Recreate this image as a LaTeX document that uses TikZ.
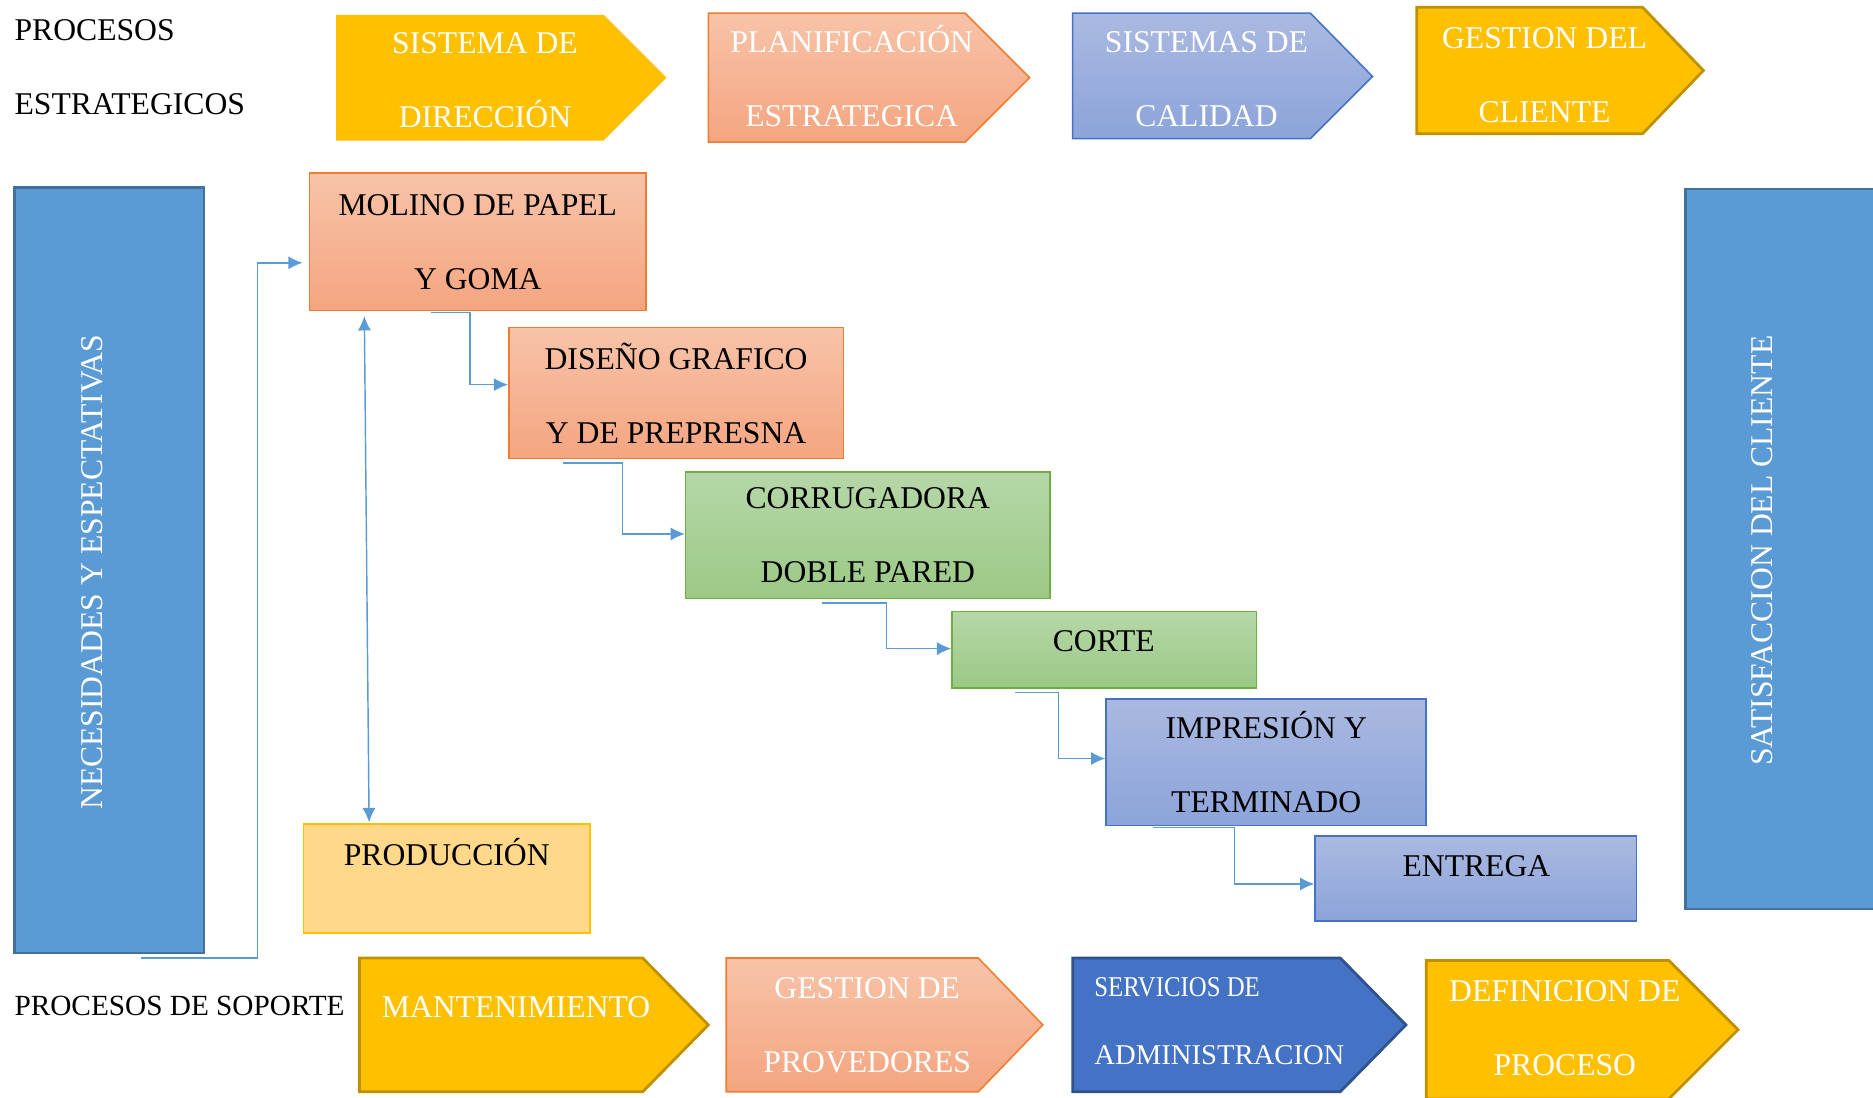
\documentclass[tikz,border=0pt]{standalone}
\usepackage{fontspec}
\setmainfont{Liberation Serif}
\usetikzlibrary{arrows.meta}
\definecolor{gold}{HTML}{FFC000}
\definecolor{goldLine}{HTML}{BF9000}
\definecolor{salTop}{HTML}{F8C3A8}
\definecolor{salBot}{HTML}{F4A580}
\definecolor{salLine}{HTML}{ED7D31}
\definecolor{grnTop}{HTML}{B6D7A8}
\definecolor{grnBot}{HTML}{9BC985}
\definecolor{grnLine}{HTML}{70AD47}
\definecolor{lavTop}{HTML}{AAB9E1}
\definecolor{lavBot}{HTML}{8CA4DA}
\definecolor{lavLine}{HTML}{4472C4}
\definecolor{bigFill}{HTML}{5B9BD5}
\definecolor{bigLine}{HTML}{41719C}
\definecolor{admFill}{HTML}{4472C4}
\definecolor{admLine}{HTML}{2F528F}
\definecolor{prodFill}{HTML}{FFD88A}
\definecolor{connBlue}{HTML}{5B9BD5}
\tikzset{
  box/.style={draw, line width=1.3pt, inner sep=0pt, align=center, font=\fontsize{26.5}{62}\selectfont},
  salmonbox/.style={top color=salTop, bottom color=salBot, draw=salLine},
  greenbox/.style={top color=grnTop, bottom color=grnBot, draw=grnLine},
  lavbox/.style={top color=lavTop, bottom color=lavBot, draw=lavLine},
  bigbox/.style={draw=bigLine, fill=bigFill, line width=2pt, inner sep=0pt},
  wtxt/.style={text=white, inner sep=0pt, align=center, font=\fontsize{26.5}{62}\selectfont},
  btxt/.style={text=black, inner sep=0pt, align=center, font=\fontsize{26.5}{62}\selectfont},
  lbl/.style={text=black, inner sep=0pt, anchor=west, font=\fontsize{26.5}{32}\selectfont},
  penta/.style={line width=1.3pt, line join=miter},
  conn/.style={connBlue, line width=1.2pt, -{Latex[length=12pt,width=11pt]}},
  dconn/.style={connBlue, line width=1.2pt, {Latex[length=12pt,width=11pt]}-{Latex[length=12pt,width=11pt]}}
}
\begin{document}
\begin{tikzpicture}[x=1pt,y=-1pt]
\useasboundingbox (0,0) rectangle (1568,919);

% side labels
\node[lbl] (lpro) at (12,25) {PROCESOS};
\node[lbl] (lest) at (12,87) {ESTRATEGICOS};
\node[lbl, font=\fontsize{24.5}{30}\selectfont] (lsop) at (12,842) {PROCESOS DE SOPORTE};

% strategic processes
\path[penta, fill=gold, draw=gold] (282,13) -- (505,13) -- (557,65) -- (505,117) -- (282,117) -- cycle;
\node[wtxt] (tsd) at (406,67) {SISTEMA DE\\DIRECCIÓN};
\path[penta, salmonbox] (593,11) -- (808,11) -- (862,65) -- (808,119) -- (593,119) -- cycle;
\node[wtxt] (tpe) at (713,64) {PLANIFICACIÓN\\ESTRATEGICA};
\path[penta, lavbox] (898,11) -- (1097,11) -- (1149,64) -- (1097,116) -- (898,116) -- cycle;
\node[wtxt] (tsc) at (1010,66) {SISTEMAS DE\\CALIDAD};
\path[penta, fill=gold, draw=goldLine, line width=2.3pt] (1186,6) -- (1375,6) -- (1426,59) -- (1375,112) -- (1186,112) -- cycle;
\node[wtxt] (tgc) at (1293,63) {GESTION DEL\\CLIENTE};

% support processes
\path[penta, fill=gold, draw=goldLine, line width=2.3pt] (301,802) -- (538,802) -- (593,858) -- (538,914) -- (301,914) -- cycle;
\node[wtxt] (tmt) at (432,843) {MANTENIMIENTO};
\path[penta, salmonbox] (608,802) -- (819,802) -- (873,858) -- (819,914) -- (608,914) -- cycle;
\node[wtxt] (tgp) at (726,858) {GESTION DE\\PROVEDORES};
\path[penta, fill=admFill, draw=admLine, line width=2.3pt] (898,802) -- (1122,802) -- (1177,858) -- (1122,914) -- (898,914) -- cycle;
\node[wtxt, align=left, anchor=west, font=\fontsize{24}{57}\selectfont] (tsa) at (916,854.5) {\scalebox{0.865}[1]{SERVICIOS DE}\\ADMINISTRACION};
\path[penta, fill=gold, draw=goldLine, line width=2.3pt] (1194,804) -- (1397,804) -- (1455,862) -- (1397,920) -- (1194,920) -- cycle;
\node[wtxt] (tdp) at (1310,861) {DEFINICION DE\\PROCESO};

% big side boxes
\node[bigbox, minimum width=159pt, minimum height=641pt] (nec) at (91.5,477.5) {};
\node[wtxt, rotate=90] (tnec) at (77,479) {NECESIDADES Y ESPECTATIVAS};
\node[bigbox, minimum width=170pt, minimum height=603pt] (sat) at (1496,459.5) {};
\node[wtxt, rotate=90] (tsat) at (1475,461) {SATISFACCION DEL CLIENTE};

% production chain
\node[box, salmonbox, minimum width=282pt, minimum height=115pt] (molino) at (400,202.5) {MOLINO DE PAPEL\\Y GOMA};
\node[box, salmonbox, minimum width=280pt, minimum height=110pt] (diseno) at (566,329) {DISEÑO GRAFICO\\Y DE PREPRESNA};
\node[box, greenbox, minimum width=305pt, minimum height=106pt] (corrug) at (726.5,448) {CORRUGADORA\\DOBLE PARED};
\node[box, greenbox, minimum width=255pt, minimum height=64pt] (corte) at (924.5,544) {};
\node[btxt] (tcorte) at (924,537) {CORTE};
\node[box, lavbox, minimum width=268pt, minimum height=106pt] (impr) at (1060,638) {IMPRESIÓN Y\\TERMINADO};
\node[box, lavbox, minimum width=269pt, minimum height=71pt] (entrega) at (1235.5,735.5) {};
\node[btxt] (tentrega) at (1236,725) {ENTREGA};
\node[box, fill=prodFill, draw=gold, minimum width=240pt, minimum height=91pt] (prod) at (374,735.5) {};
\node[btxt] (tprod) at (374,713) {PRODUCCIÓN};

% connectors
\draw[conn] ([xshift=26.5pt,yshift=-3pt]nec.south) -| ([xshift=-43pt,yshift=-17.5pt]molino.west) -- ([xshift=-5pt,yshift=-17.5pt]molino.west);
\draw[conn] ([xshift=-39pt,yshift=-1pt]molino.south) -| ([xshift=-32pt,yshift=7pt]diseno.west) -- ([yshift=7pt]diseno.west);
\draw[conn] ([xshift=-95pt,yshift=-3pt]diseno.south) -| ([xshift=-52pt,yshift=1pt]corrug.west) -- ([yshift=1pt]corrug.west);
\draw[conn] ([xshift=-38.5pt,yshift=-3pt]corrug.south) -| ([xshift=-54pt,yshift=1pt]corte.west) -- ([yshift=1pt]corte.west);
\draw[conn] ([xshift=-74.5pt,yshift=-3pt]corte.south) -| ([xshift=-39pt,yshift=3pt]impr.west) -- ([yshift=3pt]impr.west);
\draw[conn] ([xshift=-95pt,yshift=-1pt]impr.south) -| ([xshift=-67pt,yshift=-4.5pt]entrega.west) -- ([yshift=-4.5pt]entrega.west);
\draw[dconn] ([xshift=-95pt,yshift=-4pt]molino.south) -- ([xshift=-65pt,yshift=1pt]prod.north);
\end{tikzpicture}
\end{document}
